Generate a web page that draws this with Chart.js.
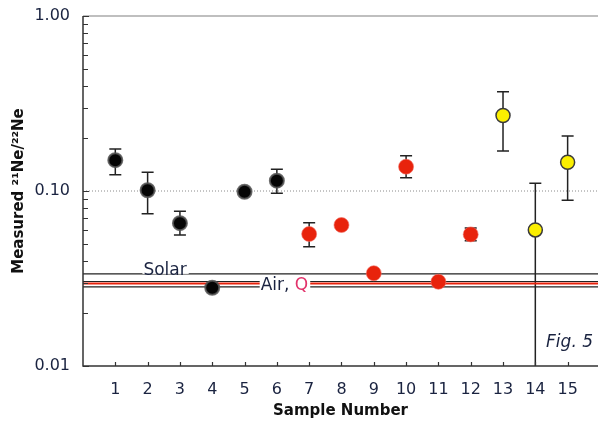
<!DOCTYPE html>
<html>
<head>
<meta charset="utf-8">
<script src="https://cdn.jsdelivr.net/npm/chart.js@4.4.1/dist/chart.umd.min.js"></script>
<style>
  html, body { margin: 0; padding: 0; background: #fff; }
  canvas { display: block; }
</style>
</head>
<body>
<canvas id="chart" width="598" height="421"></canvas>
<script>
// sample numbers and measured 21Ne/22Ne ratios
const samples = [1, 2, 3, 4, 5, 6, 7, 8, 9, 10, 11, 12, 13, 14, 15];
const ratio = [0.150, 0.101, 0.0655, 0.0280, 0.099, 0.1145, 0.0568, 0.0639, 0.0339, 0.1377, 0.0303, 0.0565, 0.270, 0.0599, 0.146];
const errHigh = [0.174, 0.128, 0.0766, null, null, 0.133, 0.0659, null, null, 0.159, null, 0.0615, 0.369, 0.1106, 0.206];
const errLow = [0.124, 0.0742, 0.056, null, null, 0.097, 0.048, null, null, 0.119, null, 0.052, 0.169, 0.001, 0.0885];
const group = ['black', 'black', 'black', 'black', 'black', 'black', 'red', 'red', 'red', 'red', 'red', 'red', 'yellow', 'yellow', 'yellow'];

// reference ratios
const solarRatio = 0.0336;
const qRatio = 0.0296;
const airRatios = [0.0304, 0.0283];
const guideRatio = 0.10;

// axes
const xTicks = [1, 2, 3, 4, 5, 6, 7, 8, 9, 10, 11, 12, 13, 14, 15];
const xMin = 0;
const xMax = 15.94;
const yMajorTicks = [0.01, 0.1, 1];
const yTickLabels = ['0.01', '0.10', '1.00'];

const TEXT = '#1a2340';
const FONT = '"DejaVu Sans", Verdana, sans-serif';
const CLEAR = 'rgba(0,0,0,0)';

const styles = {
    black: { backgroundColor: '#050505', borderColor: 'rgba(85,85,85,0.85)', borderWidth: 2, pointRadius: 7 },
    red: { backgroundColor: '#e8230c', borderColor: 'rgba(240,110,100,0.6)', borderWidth: 1, pointRadius: 7.5 },
    yellow: { backgroundColor: '#fbef00', borderColor: '#3a3a3a', borderWidth: 1.5, pointRadius: 7 }
};

function groupData(name) {
    return samples
        .map((s, i) => ({ x: s, y: ratio[i], g: group[i] }))
        .filter(p => p.g === name);
}

function hLine(value, color, width, dash) {
    return {
        type: 'line',
        data: [{ x: xMin, y: value }, { x: xMax, y: value }],
        borderColor: color,
        borderWidth: width,
        borderDash: dash || [],
        pointRadius: 0,
        order: 5
    };
}

const pointSets = ['black', 'red', 'yellow'].map(name => ({
    type: 'scatter',
    data: groupData(name),
    pointBackgroundColor: styles[name].backgroundColor,
    pointBorderColor: styles[name].borderColor,
    pointBorderWidth: styles[name].borderWidth,
    pointRadius: styles[name].pointRadius,
    order: 1
}));

const lineSets = [
    hLine(guideRatio, '#8a8a8a', 1, [1, 2]),
    hLine(solarRatio, '#222', 1.2),
    hLine(airRatios[0], '#222', 1.2),
    hLine(qRatio, '#e8230c', 2),
    hLine(airRatios[1], '#222', 1.2)
];

// axes frame, inner tick marks, error bars and text labels
const framePlugin = {
    id: 'frame',
    beforeDatasetsDraw(chart) {
        const { ctx, chartArea: a, scales: { x, y } } = chart;
        ctx.save();
        ctx.beginPath();
        ctx.rect(a.left, a.top, a.right - a.left, a.bottom - a.top);
        ctx.clip();
        ctx.strokeStyle = '#222';
        ctx.lineWidth = 1.5;
        samples.forEach((s, i) => {
            if (errHigh[i] == null) return;
            const px = x.getPixelForValue(s);
            const hi = y.getPixelForValue(errHigh[i]);
            const lo = y.getPixelForValue(errLow[i]);
            ctx.beginPath();
            ctx.moveTo(px, hi);
            ctx.lineTo(px, lo);
            ctx.moveTo(px - 6, hi);
            ctx.lineTo(px + 6, hi);
            ctx.moveTo(px - 6, lo);
            ctx.lineTo(px + 6, lo);
            ctx.stroke();
        });
        ctx.restore();
    },
    afterDatasetsDraw(chart) {
        const { ctx, chartArea: a, scales: { x, y } } = chart;
        ctx.save();

        // top line
        ctx.strokeStyle = '#aaa';
        ctx.lineWidth = 1.5;
        ctx.beginPath();
        ctx.moveTo(a.left, a.top);
        ctx.lineTo(a.right, a.top);
        ctx.stroke();

        // left and bottom axes
        ctx.strokeStyle = '#333';
        ctx.beginPath();
        ctx.moveTo(a.left, a.top);
        ctx.lineTo(a.left, a.bottom);
        ctx.lineTo(a.right, a.bottom);
        ctx.stroke();

        // y ticks pointing inward
        ctx.lineWidth = 1.2;
        ctx.beginPath();
        for (let d = 0.01; d < 1; d *= 10) {
            for (let m = 1; m <= 10; m++) {
                const py = Math.round(y.getPixelForValue(d * m)) + 0.5;
                const len = (m === 1 || m === 10) ? 6 : 5;
                ctx.moveTo(a.left, py);
                ctx.lineTo(a.left + len, py);
            }
        }
        // x ticks pointing inward
        xTicks.forEach(t => {
            const px = Math.round(x.getPixelForValue(t)) + 0.5;
            ctx.moveTo(px, a.bottom);
            ctx.lineTo(px, a.bottom - 4);
        });
        ctx.stroke();

        // labels on the reference lines, with white boxes breaking the lines
        ctx.font = '17px ' + FONT;
        ctx.textBaseline = 'middle';
        ctx.textAlign = 'left';

        const sx = x.getPixelForValue(1.87);
        const sy = y.getPixelForValue(solarRatio) - 3;
        const sw = ctx.measureText('Solar').width;
        ctx.fillStyle = '#fff';
        ctx.fillRect(sx - 1, sy - 7, sw + 3, 10);
        ctx.fillStyle = TEXT;
        ctx.fillText('Solar', sx, sy);

        const ax = x.getPixelForValue(5.5);
        const ay = y.getPixelForValue(qRatio) + 2;
        const w1 = ctx.measureText('Air, ').width;
        const w2 = ctx.measureText('Q').width;
        ctx.fillStyle = '#fff';
        ctx.fillRect(ax - 1, ay - 6, w1 + w2 + 3, 12);
        ctx.fillStyle = TEXT;
        ctx.fillText('Air, ', ax, ay);
        ctx.fillStyle = '#e2336b';
        ctx.fillText('Q', ax + w1, ay);

        // figure tag
        ctx.font = 'italic 17px ' + FONT;
        ctx.fillStyle = TEXT;
        ctx.textAlign = 'right';
        ctx.fillText('Fig. 5', a.right - 5, a.bottom - 23);

        ctx.restore();
    }
};

new Chart(document.getElementById('chart'), {
    data: { datasets: [...pointSets, ...lineSets] },
    options: {
        responsive: false,
        animation: false,
        layout: { autoPadding: false, padding: { left: 0, right: 0, top: 16, bottom: 0 } },
        plugins: {
            legend: { display: false },
            tooltip: { enabled: false }
        },
        scales: {
            x: {
                type: 'linear',
                min: xMin,
                max: xMax,
                afterBuildTicks: s => { s.ticks = xTicks.map(v => ({ value: v })); },
                afterFit: s => {
                    s.height = 55;
                    s.paddingLeft = 0;
                    s.paddingRight = 0;
                },
                grid: { display: true, drawOnChartArea: false, drawTicks: true, tickLength: 14, color: CLEAR },
                border: { display: false },
                ticks: {
                    autoSkip: false,
                    maxRotation: 0,
                    padding: 0,
                    color: TEXT,
                    font: { family: FONT, size: 16 }
                },
                title: {
                    display: true,
                    text: 'Sample Number',
                    color: '#111',
                    padding: { top: 0, bottom: 1 },
                    font: { family: FONT, size: 15, weight: 'bold' }
                }
            },
            y: {
                type: 'logarithmic',
                min: 0.01,
                max: 1,
                afterBuildTicks: s => { s.ticks = yMajorTicks.map(v => ({ value: v })); },
                afterFit: s => { s.width = 83; },
                grid: { display: true, drawOnChartArea: false, drawTicks: true, tickLength: 13, color: CLEAR },
                border: { display: false },
                ticks: {
                    autoSkip: false,
                    padding: 0,
                    color: TEXT,
                    font: { family: FONT, size: 16 },
                    callback: v => yTickLabels[yMajorTicks.indexOf(v)]
                },
                title: {
                    display: true,
                    text: 'Measured ²¹Ne/²²Ne',
                    color: '#111',
                    padding: { top: 10, bottom: 0 },
                    font: { family: FONT, size: 15, weight: 'bold' }
                }
            }
        }
    },
    plugins: [framePlugin]
});
</script>
</body>
</html>
